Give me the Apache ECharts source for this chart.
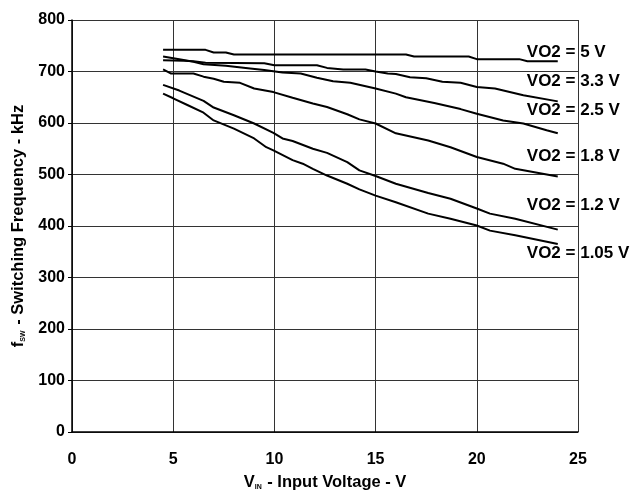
<!DOCTYPE html>
<html><head><meta charset="utf-8">
<script src="https://cdn.jsdelivr.net/npm/echarts@6/dist/echarts.min.js"></script>
<style>html,body{margin:0;padding:0;background:#fff}#c{width:631px;height:491px}</style>
</head><body><div id="c"></div>
<script>
// x ticks and y ticks
const xTicks = [0, 5, 10, 15, 20, 25];
const yTicks = [0, 100, 200, 300, 400, 500, 600, 700, 800];

// series: [VIN (V), fsw (kHz)]
const vo2_5V = [[4.5,742],[6.6,742],[7.0,737],[7.6,737],[8.0,733],[16.5,733],[16.9,729],[19.6,729],[20.0,724],[22.1,724],[22.5,720],[24,720]];
const vo2_3V3 = [[4.5,722],[5.5,721],[6.0,720],[6.6,717],[9.5,716],[10.0,712],[12.1,712],[12.6,707],[13.4,704],[14.5,704],[15.0,700],[15.6,696],[16.0,695],[16.7,689],[17.5,687],[18.3,680],[19.2,678],[20.0,670],[20.9,667],[22.3,654],[24,642]];
const vo2_2V5 = [[4.5,729],[5.3,724],[6.0,719],[6.5,714],[7.6,711],[8.8,706],[9.5,703],[10.4,698],[11.3,696],[12.1,688],[12.9,681],[13.75,678],[15,667],[16,657],[16.5,650],[17.9,639],[19.2,627],[20,618],[21.3,605],[22.3,599],[23.45,586],[24,580]];
const vo2_1V8 = [[4.5,704],[4.9,696],[6.0,696],[6.5,690],[7.0,686],[7.5,680],[8.3,678],[9.0,667],[9.95,660],[10.9,649],[11.9,638],[12.6,631],[13.6,617],[14.2,607],[15,599],[16,580],[17.6,566],[18.7,553],[20,534],[21.3,521],[21.9,511],[24,496]];
const vo2_1V2 = [[4.5,674],[5.3,663],[6.5,643],[7.0,630],[8.0,615],[9.0,599],[9.95,581],[10.4,570],[10.9,565],[11.9,550],[12.6,542],[13.6,524],[14.2,508],[15,497],[16,482],[17.6,464],[18.7,453],[20,434],[20.65,424],[21.9,414],[24,393]];
const vo2_1V05 = [[4.5,657],[5.0,648],[5.7,635],[6.5,620],[7.0,605],[8.0,589],[9.0,570],[9.6,553],[9.95,547],[10.9,528],[11.4,521],[11.9,511],[12.6,498],[13.6,482],[14.2,471],[15,459],[16,446],[17.6,424],[18.7,414],[20,401],[20.65,391],[21.9,382],[24,365]];

const curveNames = ['VO2 = 5 V','VO2 = 3.3 V','VO2 = 2.5 V','VO2 = 1.8 V','VO2 = 1.2 V','VO2 = 1.05 V'];
const curveData = [vo2_5V, vo2_3V3, vo2_2V5, vo2_1V8, vo2_1V2, vo2_1V05];
// label anchors in data coordinates [VIN, fsw]
const labelAnchors = [[22.47,738],[22.47,680],[22.47,625],[22.47,535],[22.47,441],[22.47,347]];

const FONT = '"Liberation Sans", Arial, Helvetica, sans-serif';
const chart = echarts.init(document.getElementById('c'), null, {renderer:'canvas'});

const series = curveData.map((d, i) => ({
  type: 'line', name: curveNames[i], data: d, showSymbol: false, symbol: 'none',
  lineStyle: {color: '#000', width: 2}, z: 3, animation: false
}));
series.push({
  type: 'scatter', symbolSize: 0, itemStyle: {color: '#000', opacity: 1},
  data: labelAnchors.map((p, i) => [p[0], p[1], curveNames[i]]),
  label: {show: true, position: 'right', distance: 0, formatter: p => p.value[2],
    color: '#000', opacity: 1, fontFamily: FONT, fontWeight: 'bold', fontSize: 17},
  z: 4, animation: false, silent: true
});

chart.setOption({
  animation: false,
  grid: {left: 72, right: 53, top: 20, bottom: 59, containLabel: false, outerBoundsMode: 'none'},
  xAxis: {
    type: 'value', min: xTicks[0], max: xTicks[xTicks.length-1], interval: 5,
    axisLine: {show: true, onZero: false, lineStyle: {color: '#000', width: 1.5}},
    axisTick: {show: false},
    splitLine: {show: true, lineStyle: {color: '#333', width: 1}},
    axisLabel: {margin: 20, color: '#000', fontFamily: FONT, fontWeight: 'bold', fontSize: 16},
    name: '{b|V}{s|IN}{b| - Input Voltage - V}',
    nameLocation: 'middle', nameGap: 42,
    nameTextStyle: {rich: {
      b: {fontFamily: FONT, fontWeight: 'bold', fontSize: 16.5, color: '#000'},
      s: {fontFamily: FONT, fontWeight: 'bold', fontSize: 7, color: '#000', padding: [9,1,0,0]}
    }}
  },
  yAxis: {
    type: 'value', min: yTicks[0], max: yTicks[yTicks.length-1], interval: 100,
    axisLine: {show: true, onZero: false, lineStyle: {color: '#000', width: 1.5}},
    axisTick: {show: true, length: 4, lineStyle: {color: '#000'}},
    splitLine: {show: true, lineStyle: {color: '#333', width: 1}},
    axisLabel: {margin: 7, color: '#000', fontFamily: FONT, fontWeight: 'bold', fontSize: 16},
    name: '{b|f}{s|SW}{b| - Switching Frequency - kHz}',
    nameLocation: 'middle', nameGap: 45, nameRotate: 90,
    nameTextStyle: {rich: {
      b: {fontFamily: FONT, fontWeight: 'bold', fontSize: 16.5, color: '#000'},
      s: {fontFamily: FONT, fontWeight: 'bold', fontSize: 7, color: '#000', padding: [9,1,0,0]}
    }}
  },
  series: series
});
</script>
</body></html>
